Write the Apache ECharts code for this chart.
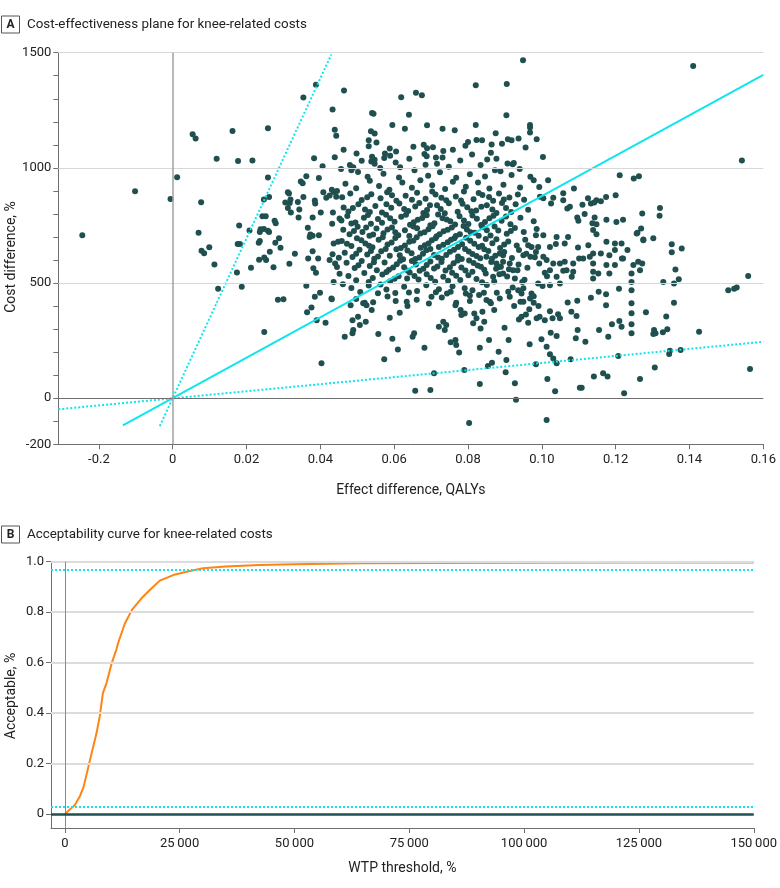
<!DOCTYPE html>
<html><head><meta charset="utf-8">
<script src="https://cdn.jsdelivr.net/npm/echarts@6/dist/echarts.min.js"></script>
<style>html,body{margin:0;padding:0;background:#fff}#c{width:780px;height:888px}</style>
</head><body><div id="c"></div>
<script>
const scatterPoints = [
[0.0388,1361],[0.0354,1305],[0.0433,1253],[0.0439,1166],[0.0443,1140],[0.0054,1146],[0.0062,1128],[0.0162,1160],[0.0258,1172],[0.0119,1040],[0.0177,1030],[0.0216,1032],[0.0383,1042],[0.0406,1007],[0.0439,1046],[0.0012,959],[-0.0102,899],[-0.0006,865],[0.0077,851],[-0.0245,708],[0.018,750],[0.007,718],[0.0208,728],[0.0258,958],[0.0362,964],[0.0347,941],[0.0352,933],[0.0396,956],[0.0312,894],[0.0315,889],[0.0247,863],[0.0261,874],[0.0305,850],[0.0317,848],[0.0319,863],[0.0339,852],[0.0354,874],[0.0385,858],[0.0386,845],[0.0408,894],[0.0312,826],[0.032,806],[0.0343,819],[0.0341,785],[0.0379,785],[0.0401,806],[0.0243,790],[0.0252,790],[0.0276,770],[0.0279,760],[0.0238,734],[0.0236,722],[0.0247,735],[0.0258,727],[0.0261,722],[0.0288,694],[0.0366,740],[0.0373,711],[0.0379,705],[0.0396,708],[0.0434,806],[0.0432,757],[0.0452,780],[0.0416,870],[0.0425,880],[0.0431,905],[0.0437,895],[0.0443,875],[0.0445,900],
[0.0078,640],[0.0085,629],[0.0099,655],[0.0113,581],[0.0123,475],[0.0174,546],[0.0176,670],[0.0182,669],[0.0187,484],[0.0212,566],[0.0233,675],[0.0236,683],[0.0234,601],[0.0248,611],[0.0253,600],[0.0263,636],[0.0273,569],[0.0278,675],[0.0292,653],[0.0316,584],[0.0331,627],[0.0285,427],[0.03,430],[0.0248,287],[0.0362,488],[0.0364,373],[0.0376,394],[0.0385,440],[0.0399,458],[0.039,339],[0.0414,328],[0.0403,152],[0.0431,430],[0.0436,505],[0.0367,607],[0.0379,638],[0.0394,607],[0.0381,564],[0.0388,545],[0.0371,700],[0.0436,672],[0.0448,679],[0.0425,600],[0.0433,625],[0.044,585],[0.0445,570],[0.045,610],[0.0452,540],
[0.0949,1467],[0.141,1442],[0.0821,1359],[0.0905,1364],[0.0464,1336],[0.0619,1307],[0.0659,1326],[0.0675,1315],[0.054,1238],[0.0544,1235],[0.064,1231],[0.0904,1228],[0.0968,1186],[0.0968,1175],[0.0968,1154],[0.0986,1124],[0.0956,1089],[0.1003,1047],[0.0937,1127],[0.0918,1120],[0.0908,1124],[0.0921,1016],[0.0924,1021],[0.0907,1019],[0.094,995],[0.0821,1186],[0.0875,1150],[0.0823,1121],[0.0838,1120],[0.08,1112],[0.0864,1101],[0.0892,1105],[0.0862,1066],[0.0877,1040],[0.0888,985],[0.0731,1170],[0.0764,1163],[0.0689,1185],[0.0629,1170],[0.0595,1186],
[0.068,1100],[0.0689,1085],[0.0705,1090],[0.0682,1060],[0.0688,1050],[0.0713,1045],[0.0731,1045],[0.0733,1073],[0.0759,1079],[0.0685,1014],[0.0463,1079],[0.0456,995],[0.0537,1159],[0.0547,1149],[0.0531,1120],[0.0552,1110],[0.0531,1094],[0.0588,1084],[0.0575,1062],[0.0589,1053],[0.0573,1043],[0.054,1048],[0.0547,1035],[0.0538,1028],[0.0547,1018],[0.0604,1023],[0.0616,1003],[0.0562,1000],[0.048,1013],[0.0486,1000],[0.0489,1003],[0.0484,990],
[0.0498,1062],[0.0512,1031],[0.0605,1071],[0.0641,1040],[0.0652,1092],[0.0716,1018],[0.0748,1005],[0.0779,1032],[0.0811,1058],[0.0834,1012],[0.0852,1036],[0.0793,1096],
[0.1211,968],[0.1249,954],[0.1263,964],[0.1542,1032],[0.1606,873],[0.1174,874],[0.12,881],[0.1087,910],[0.1058,890],[0.1031,870],[0.1058,860],[0.1025,845],[0.1004,868],[0.0995,875],[0.1017,946],[0.0993,917],[0.0969,961],[0.0978,946],[0.132,826],[0.1319,792],[0.1272,802],[0.1125,868],[0.1133,845],[0.1148,860],[0.116,855],[0.1142,850],[0.111,840],[0.1069,824],[0.1076,831],[0.1096,785],[0.1099,770],[0.1116,800],[0.1143,785],[0.1137,760],[0.1148,755],[0.1175,775],[0.1202,765],[0.122,775],[0.1259,718],[0.1269,737],[0.1275,689],[0.1302,695],
[0.1352,668],[0.1352,634],[0.1379,650],[0.1275,686],[0.1257,715],[0.1362,559],[0.1371,516],[0.1358,498],[0.1329,505],[0.1559,531],[0.1505,469],[0.1521,475],[0.1528,481],[0.1564,127],[0.1426,289],[0.1358,414],[0.1337,355],[0.134,299],[0.1328,286],[0.1304,296],[0.1308,282],[0.1302,279],[0.1282,373],[0.1347,206],[0.1376,209],[0.1345,192],[0.1306,133],[0.1266,84],[0.1223,22],[0.1166,108],[0.1178,94],[0.1141,94],[0.1108,45],[0.1103,46],[0.1207,183],[0.1243,505],[0.1243,469],[0.1243,412],[0.1243,369],[0.1243,321],[0.1243,282],[0.1209,475],[0.119,321],[0.121,335],[0.1216,310],[0.118,267],[0.1155,296],[0.1174,451],[0.1174,404],[0.1154,462],[0.1133,436],[0.1096,423],[0.107,416],[0.108,375],[0.1094,357],[0.1097,296],[0.1092,260],[0.1118,245],[0.1078,169],[0.104,152],[0.1031,173],[0.1022,191],[0.1013,224],[0.0999,256],[0.1024,284],[0.104,270],[0.1015,84],[0.1036,30],[0.1013,-94],[0.0984,147],[0.0967,234],[0.0927,65],[0.093,-7],[0.0902,113],[0.0904,166],[0.091,253],[0.0883,202],[0.0899,306],[0.0854,140],[0.0865,154],[0.0857,253],[0.0832,219],[0.0832,62],[0.0803,-108],[0.079,123],[0.0776,198],[0.0768,231],[0.0753,243],[0.0766,253],[0.0708,108],[0.0698,36],[0.0657,32],[0.0682,219],[0.061,211],[0.0595,258],[0.0573,169],[0.0557,279],[0.065,267],[0.0654,282],[0.0721,310],[0.0733,332],[0.0737,296],[0.0741,318],[0.0466,267],[0.0487,282],[0.0489,296],[0.0507,318],[0.0523,332],[0.0487,339],[0.0502,354],[0.0539,383],[0.0525,404],[0.0516,412],[0.052,414],[0.0482,404],[0.0588,349],[0.0615,371],[0.0636,400],[0.0634,419],[0.064,459],[0.0635,520],[0.0604,422],[0.043,433],[0.0461,495],[0.0556,456],[0.0563,494],[0.0701,440],[0.0713,460],[0.0743,455],[0.0753,462],[0.0768,414],[0.0766,404],[0.078,383],[0.0791,368],[0.0782,361],[0.0791,477],[0.0794,455],[0.0805,422],[0.083,448],[0.0843,458],[0.085,426],[0.0862,412],[0.0871,383],[0.0859,419],[0.0817,368],[0.0823,347],[0.0839,375],[0.0844,332],[0.0814,325],[0.0834,303],[0.0909,462],[0.0913,440],[0.0925,400],[0.0942,419],[0.095,419],[0.0966,386],[0.0978,415],[0.0991,400],[0.0938,342],[0.0945,354],[0.0957,364],[0.0963,328],[0.0986,347],[0.0994,354],[0.1008,339],[0.1022,378],[0.1029,347],[0.1044,365],[0.1049,347],[0.099,498],[0.1002,487],[0.1022,491],[0.104,527],[0.1014,530],[0.1049,498],[0.1058,553],[0.0945,455],[0.095,477],[0.0968,433],[0.0972,455],[0.0978,443],[0.0927,520],[0.0934,556],[0.0947,505],[0.0936,469],[0.0895,542],[0.0884,570],[0.0877,585],[0.0868,527],[0.085,614],[0.0895,592],[0.0913,585],[0.0922,556],[0.0895,621],[0.095,621],[0.0969,614],[0.0984,635],[0.1004,614],[0.1013,600],[0.0993,585],[0.1008,545],[0.1022,556],[0.1031,585],[0.1049,585],[0.1062,592],[0.1067,556],[0.1085,585],[0.1085,549],[0.1101,607],[0.1081,527],[0.1112,607],[0.113,614],[0.1139,585],[0.1139,549],[0.1139,520],[0.1153,542],[0.1175,578],[0.1198,578],[0.1183,542],[0.122,607],[0.1243,542],[0.1248,578],[0.1261,592],[0.1272,585],[0.1266,556],[0.1175,679],[0.1198,672],[0.1216,672],[0.1232,643],[0.1217,607],[0.1198,643],[0.1183,621],[0.116,628],[0.1139,628],[0.1126,664],[0.1098,654],[0.1139,730],[0.1148,712],[0.1071,700],[0.1062,672],[0.104,700],[0.1038,669],[0.1022,657],[0.1004,708],[0.0984,708],[0.0963,664],[0.099,657],
[0.0502,982],[0.0528,961],[0.0571,975],[0.0613,958],[0.0655,990],[0.0692,966],[0.0724,981],[0.0768,957],[0.0805,972],[0.0846,963],[0.0873,990],[0.0918,969],
[0.0468,931],[0.0497,912],[0.0534,944],[0.0559,921],[0.0587,905],[0.0622,937],[0.0648,914],[0.0671,946],[0.0703,925],[0.0738,908],[0.0759,940],[0.0794,918],[0.0827,936],[0.0858,910],[0.0896,927],[0.0941,915],
[0.0459,872],[0.0481,889],[0.0512,861],[0.0538,885],[0.0563,868],[0.0581,894],[0.0606,857],[0.0631,879],[0.0662,892],[0.0685,866],[0.0712,884],[0.0741,859],[0.0767,876],[0.0789,897],[0.0815,864],[0.0839,882],[0.0868,857],[0.0884,889],[0.0912,871],[0.0952,862],
[0.0463,828],[0.0476,811],[0.0503,842],[0.0521,819],[0.0549,835],[0.0567,806],[0.0592,827],[0.0614,845],[0.0638,813],[0.0657,832],[0.0679,804],[0.0697,838],[0.0726,821],[0.0748,846],[0.0772,809],[0.0798,829],[0.0822,815],[0.0851,838],[0.0877,804],[0.0903,826],[0.0929,842],[0.0963,818],
[0.0457,772],[0.0473,791],[0.0495,763],[0.0518,784],[0.0537,757],[0.0556,778],[0.0578,796],[0.0601,766],[0.0619,788],[0.0643,753],[0.0664,775],[0.0688,794],[0.0709,760],[0.0731,781],[0.0752,768],[0.0777,790],[0.0801,756],[0.0824,779],[0.0846,765],[0.0869,792],[0.0891,770],[0.0915,755],[0.0942,783],[0.0978,768],
[0.0462,731],[0.0479,712],[0.0501,744],[0.0514,722],[0.0533,705],[0.0552,737],[0.0571,716],[0.0594,741],[0.0611,708],[0.0629,729],[0.0652,746],[0.0671,715],[0.0693,734],[0.0715,703],[0.0734,725],[0.0756,741],[0.0778,712],[0.0797,733],[0.0818,718],[0.0839,742],[0.0861,706],[0.0882,728],[0.0905,714],[0.0927,739],[0.0951,722],[0.0986,735],
[0.0458,683],[0.0484,661],[0.0499,694],[0.0522,672],[0.0541,655],[0.0558,688],[0.0582,667],[0.0603,696],[0.0618,652],[0.0641,679],[0.0661,699],[0.0683,664],[0.0702,686],[0.0721,657],[0.0745,677],[0.0763,695],[0.0784,668],[0.0806,684],[0.0829,656],[0.0848,691],[0.0866,673],[0.0887,652],[0.0909,680],[0.0932,663],[0.0955,688],[0.0972,657],
[0.0466,632],[0.0487,613],[0.0506,645],[0.0527,624],[0.0546,606],[0.0565,638],[0.0588,618],[0.0606,647],[0.0624,603],[0.0647,629],[0.0668,611],[0.0687,642],[0.0708,622],[0.0729,605],[0.0751,636],[0.0773,615],[0.0792,648],[0.0812,626],[0.0833,608],[0.0855,639],[0.0874,619],[0.0898,635],[0.0919,609],[0.0938,643],[0.0958,627],[0.0981,612],
[0.0471,588],[0.0493,565],[0.0512,596],[0.0534,574],[0.0553,556],[0.0574,589],[0.0597,568],[0.0616,597],[0.0637,553],[0.0659,581],[0.0679,562],[0.0698,594],[0.0717,572],[0.0739,554],[0.0761,586],[0.0782,567],[0.0803,598],[0.0826,576],[0.0844,558],[0.0863,591],[0.0889,571],[0.0911,560],[0.0937,581],[0.0961,566],
[0.0476,531],[0.0497,512],[0.0519,544],[0.0542,522],[0.0568,537],[0.0589,508],[0.0612,529],[0.0642,546],[0.0666,515],[0.0688,538],[0.0711,506],[0.0733,527],[0.0757,545],[0.0779,513],[0.0801,534],[0.0823,518],[0.0848,541],[0.0871,507],[0.0906,528],[0.0953,514],
[0.0484,478],[0.0508,461],[0.0531,489],[0.0579,472],[0.0603,457],[0.0627,484],[0.0662,466],[0.0687,491],[0.0721,473],[0.0758,486],[0.0812,469],[0.0851,492],[0.0878,458],[0.0921,481],
[0.0497,431],[0.0543,417],[0.0582,442],[0.0661,428],[0.0694,411],[0.0729,437],[0.0805,446],[0.0886,433],
[0.0527,873],[0.0594,881],[0.0648,862],[0.0703,897],[0.0728,870],[0.0781,858],[0.0829,891],[0.0857,874],[0.0897,863],[0.0935,884],
[0.0488,826],[0.0534,808],[0.0579,842],[0.0627,822],[0.0668,847],[0.0689,817],[0.0716,838],[0.0737,803],[0.0785,844],[0.0809,812],[0.0836,831],[0.0866,819],[0.0892,847],[0.0917,808],
[0.0484,758],[0.0529,795],[0.0567,762],[0.0589,781],[0.0632,797],[0.0653,764],[0.0676,782],[0.0698,751],[0.0719,798],[0.0742,776],[0.0765,754],[0.0789,772],[0.0812,793],[0.0836,752],[0.0858,781],[0.0903,789],
[0.0491,726],[0.0524,741],[0.0543,711],[0.0582,733],[0.0603,721],[0.0641,704],[0.0662,738],[0.0682,721],[0.0704,747],[0.0723,712],[0.0745,731],[0.0767,704],[0.0788,748],[0.0807,721],[0.0829,705],[0.0851,729],[0.0872,745],[0.0916,726],
[0.0472,671],[0.0511,686],[0.0532,662],[0.0569,699],[0.0593,676],[0.0629,663],[0.0652,684],[0.0672,653],[0.0693,672],[0.0712,694],[0.0733,666],[0.0754,688],[0.0773,657],[0.0795,697],[0.0817,671],[0.0838,662],[0.0877,690],[0.0898,667],
[0.0497,627],[0.0537,639],[0.0556,615],[0.0577,648],[0.0615,621],[0.0636,641],[0.0657,604],[0.0678,627],[0.0698,648],[0.0719,611],[0.0741,622],[0.0762,645],[0.0783,604],[0.0802,637],[0.0823,617],[0.0844,647],[0.0865,606],[0.0886,628],
[0.0503,577],[0.0545,590],[0.0586,558],[0.0607,582],[0.0627,569],[0.0648,596],[0.0669,553],[0.0688,578],[0.0708,563],[0.0728,591],[0.0751,569],[0.0772,598],[0.0793,555],[0.0815,587],[0.0835,571],[0.0876,562],
[0.0531,505],[0.0579,548],[0.0601,519],[0.0655,531],[0.0699,522],[0.0746,510],[0.0768,532],[0.0812,549],[0.0838,504],[0.0885,538]
];
const icerLine = [[-0.0135,-118],[0.16,1404]];
const ciSteepLine = [[-0.0035,-121],[0.043,1493]];
const ciShallowLine = [[-0.031,-48],[0.16,245]];
const xTicksA = [-0.02,0,0.02,0.04,0.06,0.08,0.10,0.12,0.14,0.16];
const xLabelsA = ['-0.2','0','0.02','0.04','0.06','0.08','0.10','0.12','0.14','0.16'];
const yTicksA = [-200,-100,0,100,200,300,400,500,600,700,800,900,1000,1100,1200,1300,1400,1500];
const yLabelValsA = [-200,0,500,1000,1500];
const yLabelsA = ['-200','0','500','1000','1500'];
const yGridA = [500,1000,1500];
const wtp = [0,2200,3300,4100,5300,6900,7600,8300,9100,10200,11200,11600,13100,14700,16700,18900,20700,23600,26500,30100,35000,42400,50000,64200,80000,100000,125000,150000];
const probAccept = [0,0.036,0.071,0.108,0.2,0.32,0.386,0.479,0.52,0.597,0.65,0.677,0.756,0.811,0.855,0.895,0.925,0.947,0.96,0.974,0.981,0.987,0.99,0.994,0.995,0.996,0.997,0.997];
const xTicksB = [0,25000,50000,75000,100000,125000,150000];
const xLabelsB = ['0','25\u2009000','50\u2009000','75\u2009000','100\u2009000','125\u2009000','150\u2009000'];
const yTicksB = [0,0.2,0.4,0.6,0.8,1.0];
const yLabelsB = ['0','0.2','0.4','0.6','0.8','1.0'];
const yGridB = [0.2,0.4,0.6,0.8,1.0];
const ciLevelsB = [0.025,0.975];

const FONT = "Roboto, 'Liberation Sans', sans-serif";
const CYAN = '#10e4ee', DOT = '#1f4f4f', ORANGE = '#ff8412', AX = '#6f6f6f';
function fmt(ticks, labels) {
  return function (v) {
    for (let i = 0; i < ticks.length; i++) if (Math.abs(ticks[i] - v) < 1e-9 * Math.max(1, Math.abs(v)) + 1e-12) return labels[i];
    return '';
  };
}
const pairs = (xs, ys) => xs.map((x, i) => [x, ys[i]]);
const mlBase = { symbol: ['none', 'none'], silent: true, animation: false, label: { show: false } };

const chart = echarts.init(document.getElementById('c'));
chart.setOption({
  animation: false,
  textStyle: { fontFamily: FONT },
  grid: [
    { left: 58.3, top: 52.7, width: 705, height: 391.6 },
    { left: 51, top: 561.7, width: 703.5, height: 266.3 }
  ],
  xAxis: [
    { gridIndex: 0, type: 'value', min: -0.031, max: 0.16,
      axisLine: { onZero: false, lineStyle: { color: AX, width: 1 } },
      axisTick: { customValues: xTicksA, length: 5, lineStyle: { color: AX } },
      axisLabel: { customValues: xTicksA, formatter: fmt(xTicksA, xLabelsA), color: '#222', fontSize: 13, margin: 9, fontFamily: FONT },
      splitLine: { show: false },
      name: 'Effect difference, QALYs', nameLocation: 'middle', nameGap: 39,
      nameTextStyle: { color: '#222', fontSize: 14, fontFamily: FONT } },
    { gridIndex: 1, type: 'value', min: -3000, max: 150000,
      axisLine: { onZero: false, lineStyle: { color: AX, width: 1 } },
      axisTick: { customValues: xTicksB, length: 5, lineStyle: { color: AX } },
      axisLabel: { customValues: xTicksB, formatter: fmt(xTicksB, xLabelsB), color: '#222', fontSize: 13, margin: 9, fontFamily: FONT },
      splitLine: { show: false },
      name: 'WTP threshold, %', nameLocation: 'middle', nameGap: 33,
      nameTextStyle: { color: '#222', fontSize: 14, fontFamily: FONT } }
  ],
  yAxis: [
    { gridIndex: 0, type: 'value', min: -200, max: 1500,
      axisLine: { show: true, onZero: false, lineStyle: { color: AX, width: 1 } },
      axisTick: { show: true, customValues: yTicksA, length: 5, lineStyle: { color: AX } },
      axisLabel: { customValues: yLabelValsA, formatter: fmt(yLabelValsA, yLabelsA), color: '#222', fontSize: 13, margin: 7, fontFamily: FONT },
      splitLine: { show: false } },
    { gridIndex: 1, type: 'value', min: -0.055, max: 1.0,
      axisLine: { show: true, onZero: false, lineStyle: { color: AX, width: 1 } },
      axisTick: { show: true, customValues: yTicksB, length: 5, lineStyle: { color: AX } },
      axisLabel: { customValues: yTicksB, formatter: fmt(yTicksB, yLabelsB), color: '#222', fontSize: 13, margin: 7, fontFamily: FONT },
      splitLine: { show: false } }
  ],
  graphic: [
    { type: 'rect', shape: { x: 1.5, y: 16, width: 18, height: 17 }, style: { fill: '#fff', stroke: '#555', lineWidth: 1 } },
    { type: 'text', x: 10.5, y: 24.5, style: { text: 'A', font: "bold 12px " + FONT, fill: '#222', textAlign: 'center', textVerticalAlign: 'middle' } },
    { type: 'text', x: 27, y: 24.5, style: { text: 'Cost-effectiveness plane for knee-related costs', font: "13.4px " + FONT, fill: '#222', textVerticalAlign: 'middle' } },
    { type: 'rect', shape: { x: 1.5, y: 526, width: 18, height: 17 }, style: { fill: '#fff', stroke: '#555', lineWidth: 1 } },
    { type: 'text', x: 10.5, y: 534.5, style: { text: 'B', font: "bold 12px " + FONT, fill: '#222', textAlign: 'center', textVerticalAlign: 'middle' } },
    { type: 'text', x: 27, y: 534.5, style: { text: 'Acceptability curve for knee-related costs', font: "13.4px " + FONT, fill: '#222', textVerticalAlign: 'middle' } },
    { type: 'text', x: 11.5, y: 257, rotation: Math.PI / 2, style: { text: 'Cost difference, %', font: "14px " + FONT, fill: '#222', textAlign: 'center', textVerticalAlign: 'middle' } },
    { type: 'text', x: 11.5, y: 696, rotation: Math.PI / 2, style: { text: 'Acceptable, %', font: "14px " + FONT, fill: '#222', textAlign: 'center', textVerticalAlign: 'middle' } }
  ],
  series: [
    { type: 'line', xAxisIndex: 0, yAxisIndex: 0, data: [], z: 1,
      markLine: Object.assign({}, mlBase, { data: [
        ...yGridA.map(v => ({ yAxis: v, lineStyle: { color: '#d8d8d8', width: 1, type: 'solid' } })),
        { yAxis: 0, lineStyle: { color: '#707070', width: 1.2, type: 'solid' } },
        { xAxis: 0, lineStyle: { color: '#a0a0a0', width: 1.5, type: 'solid' } }
      ] }) },
    { type: 'scatter', xAxisIndex: 0, yAxisIndex: 0, data: scatterPoints, symbolSize: 6, itemStyle: { color: DOT, opacity: 1 }, z: 2 },
    { type: 'line', xAxisIndex: 0, yAxisIndex: 0, data: ciShallowLine, showSymbol: false, lineStyle: { color: CYAN, width: 2, type: [2, 2] }, z: 3 },
    { type: 'line', xAxisIndex: 0, yAxisIndex: 0, data: ciSteepLine, showSymbol: false, lineStyle: { color: CYAN, width: 2, type: [2, 2] }, z: 3 },
    { type: 'line', xAxisIndex: 0, yAxisIndex: 0, data: icerLine, showSymbol: false, lineStyle: { color: CYAN, width: 2 }, z: 3 },
    { type: 'line', xAxisIndex: 1, yAxisIndex: 1, data: [], z: 1,
      markLine: Object.assign({}, mlBase, { data: [
        ...yGridB.map(v => ({ yAxis: v, lineStyle: { color: '#dcdcdc', width: 2, type: 'solid' } })),
        { xAxis: 0, lineStyle: { color: '#8a8a8a', width: 1, type: 'solid' } },
        ...ciLevelsB.map(v => ({ yAxis: v, lineStyle: { color: CYAN, width: 2, type: [2, 2] } })),
        { yAxis: 0, lineStyle: { color: DOT, width: 2.5, type: 'solid' } }
      ] }) },
    { type: 'line', xAxisIndex: 1, yAxisIndex: 1, data: pairs(wtp, probAccept), showSymbol: false, lineStyle: { color: ORANGE, width: 2 }, z: 3 }
  ]
});
</script>
</body></html>
